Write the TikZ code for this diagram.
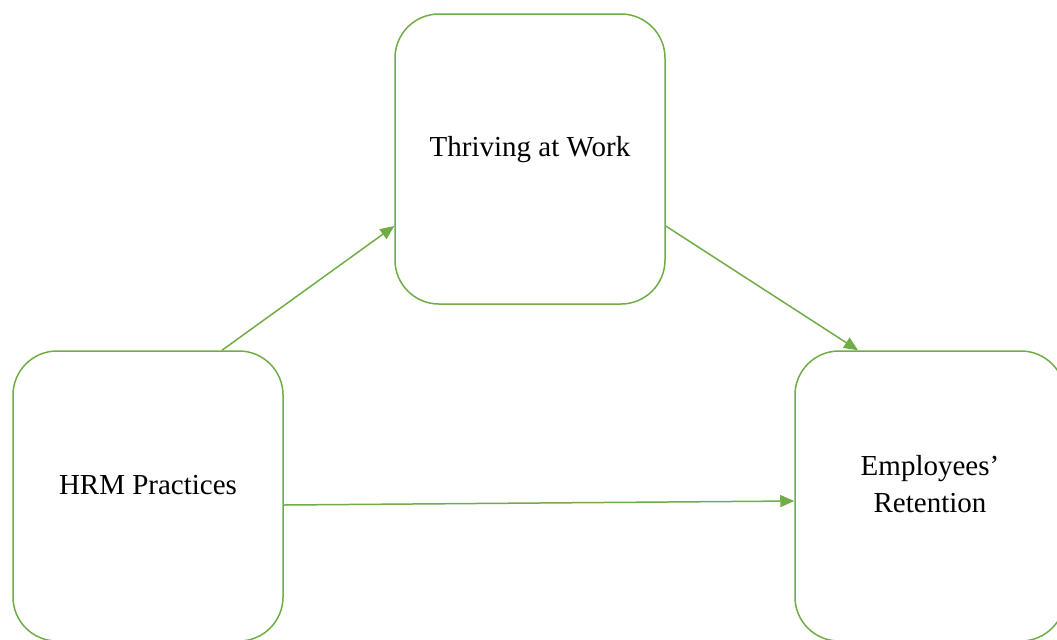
\documentclass[tikz,border=0pt]{standalone}
\usepackage{fontspec}
\setmainfont{Liberation Serif}
\usetikzlibrary{positioning, arrows.meta}
\definecolor{boxgreen}{RGB}{112,173,71}

\begin{document}
\begin{tikzpicture}[x=0.5pt,y=-0.5pt,
	block/.style={draw=boxgreen,line width=0.75pt,rounded corners=22pt,minimum width=135pt,minimum height=145pt,inner sep=0pt},
	blocktext/.style={font=\fontsize{14.5}{18.5}\selectfont,align=center,inner sep=0pt},
	link/.style={boxgreen,line width=0.75pt,-{Triangle[length=7pt,width=6pt]}}]
	\useasboundingbox (0,0) rectangle (1057,639);
	\node (thriving) at (530,159) [block] {};
	\node (hrm) at (148,496) [block] {};
	\node (retention) at (930,496) [block] {};
	%labels
	\node (thrivinglabel) at ([yshift=4.5pt]thriving.center) [blocktext] {Thriving at Work};
	\node (hrmlabel) at ([yshift=5.5pt]hrm.center) [blocktext] {HRM Practices};
	\node (retentionlabel) at ([yshift=6pt]retention.center) [blocktext] {Employees'\\Retention};
	%paths
	\draw[link] ([xshift=37pt]hrm.north) -- ([yshift=-33.5pt]thriving.west);
	\draw[link] ([yshift=-33.5pt]thriving.east) -- ([xshift=-36pt]retention.north);
	\draw[link] ([yshift=-4.5pt]hrm.east) -- ([yshift=-2.5pt]retention.west);
\end{tikzpicture}
\end{document}
